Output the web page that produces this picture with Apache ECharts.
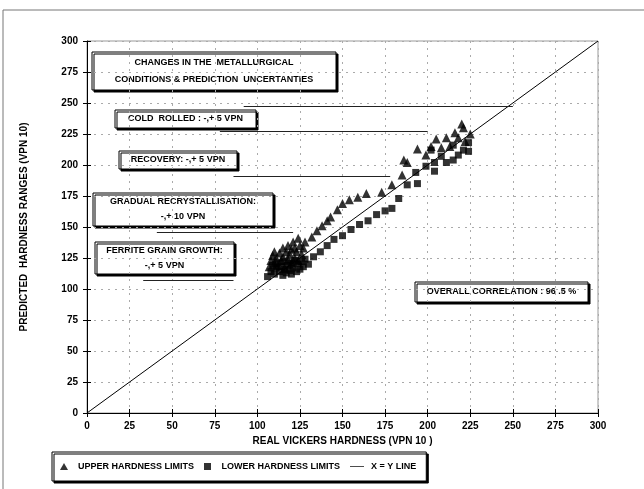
<!DOCTYPE html>
<html>
<head>
<meta charset="utf-8">
<script src="https://cdn.jsdelivr.net/npm/echarts@6/dist/echarts.min.js"></script>
<style>
  html, body { margin: 0; padding: 0; background: #fff; }
  #chart { width: 644px; height: 489px; }
</style>
</head>
<body>
<div id="chart"></div>
<script>
// Axis ticks (VPN 10)
const tickValues = [0, 25, 50, 75, 100, 125, 150, 175, 200, 225, 250, 275, 300];

// Upper limits of the predicted hardness range: [real, predicted]
const upperLimits = [
  [107,118],[108,123],[109,127],[110,121],[110,130],[111,125],[112,119],[113,129],
  [114,123],[115,133],[115,126],[116,117],[117,130],[118,124],[118,135],[119,128],
  [120,132],[120,121],[121,138],[122,125],[122,133],[123,130],[124,141],[124,123],
  [125,135],[126,128],[127,133],[128,138],
  [132,142],[135,147],[138,151],[141,155],[143,158],[147,164],[150,169],[154,172],
  [159,174],[164,177],[173,178],[179,184],[185,192],[186,204],[188,202],[194,213],
  [199,208],[205,221],[211,222],[216,226],[221,230],[222,219],[225,225],[213,215],
  [218,222],[208,214],[202,215],[220,233]
];

// Lower limits of the predicted hardness range: [real, predicted]
const lowerLimits = [
  [106,110],[108,114],[109,119],[110,112],[111,117],[112,121],[113,114],[114,118],
  [115,111],[116,116],[116,122],[117,113],[118,119],[119,115],[120,121],[120,112],
  [121,117],[122,123],[123,114],[124,120],[125,116],[126,122],[127,118],[128,124],
  [130,120],[133,126],[137,130],[141,135],[145,140],[150,143],[155,148],[160,152],
  [165,155],[170,160],[175,163],[179,165],[183,173],[188,184],[193,194],[194,185],
  [199,199],[202,212],[204,195],[204,202],[211,202],[215,204],[215,216],[221,212],
  [224,218],[224,211],[208,207],[218,208]
];

// Reference line x = y
const identityLine = [[0, 0], [300, 300]];

// Hardness bands of each metallurgical condition: [hardness, from real, to real]
const rangeLines = [
  [247.5, 92, 250],
  [227.5, 78, 200],
  [191, 86, 178],
  [146, 41, 121],
  [107, 33, 86]
];

const FONT = '"Liberation Sans", Arial, sans-serif';

const chart = echarts.init(document.getElementById('chart'), null, { renderer: 'canvas' });

// Framed note with a hard drop shadow
function noteBox(x, y, w, h, lines, lineH) {
  const children = [{
    type: 'rect',
    shape: { x: 0, y: 0, width: w, height: h },
    style: { fill: '#fff', stroke: '#000', lineWidth: 1,
             shadowColor: '#000', shadowBlur: 0, shadowOffsetX: 2, shadowOffsetY: 2 }
  }];
  lines.forEach((t, i) => {
    children.push({
      type: 'text',
      style: {
        text: t, x: w / 2, y: h / 2 + (i - (lines.length - 1) / 2) * lineH,
        align: 'center', verticalAlign: 'middle',
        font: 'bold 9px ' + FONT, fill: '#000'
      }
    });
  });
  return { type: 'group', x: x, y: y, children: children, z: 10 };
}

const axisCommon = {
  min: 0, max: 300, interval: 25,
  axisLine: { show: true, lineStyle: { color: '#000', width: 1 } },
  axisTick: { show: true, length: 4, lineStyle: { color: '#000' } },
  axisLabel: { color: '#000', fontFamily: FONT, fontWeight: 'bold', fontSize: 10 },
  splitLine: { show: true, lineStyle: { color: '#aaa', type: [2, 5], width: 1 } }
};

const option = {
  animation: false,
  backgroundColor: '#fff',
  grid: { left: 87, right: 46, top: 41, bottom: 76, show: true, borderColor: '#999', borderWidth: 1 },
  xAxis: [
    Object.assign({}, axisCommon, {
      type: 'value',
      name: 'REAL VICKERS HARDNESS (VPN 10 )',
      nameLocation: 'middle', nameGap: 21,
      nameTextStyle: { color: '#000', fontFamily: FONT, fontWeight: 'bold', fontSize: 10 },
      axisLabel: Object.assign({}, axisCommon.axisLabel, { margin: 8,
        formatter: v => tickValues.includes(v) ? String(v) : '' })
    }),
    { type: 'value', min: 0, max: 300, interval: 25, position: 'bottom',
      axisLine: { show: false }, axisLabel: { show: false }, splitLine: { show: false },
      axisTick: { show: true, inside: true, length: 4, lineStyle: { color: '#000' } } }
  ],
  yAxis: [
    Object.assign({}, axisCommon, {
      type: 'value',
      name: 'PREDICTED  HARDNESS RANGES (VPN 10)',
      nameLocation: 'middle', nameGap: 58,
      nameTextStyle: { color: '#000', fontFamily: FONT, fontWeight: 'bold', fontSize: 10 },
      axisLabel: Object.assign({}, axisCommon.axisLabel, { margin: 9,
        formatter: v => tickValues.includes(v) ? String(v) : '' })
    }),
    { type: 'value', min: 0, max: 300, interval: 25, position: 'left',
      axisLine: { show: false }, axisLabel: { show: false }, splitLine: { show: false },
      axisTick: { show: true, inside: true, length: 4, lineStyle: { color: '#000' } } }
  ],
  legend: {
    left: 52, top: 452,
    itemGap: 10, itemWidth: 14, itemHeight: 7,
    padding: [10, 10, 10, 8],
    backgroundColor: '#fff', borderColor: '#000', borderWidth: 1,
    shadowColor: '#000', shadowBlur: 0, shadowOffsetX: 2, shadowOffsetY: 2,
    textStyle: { color: '#000', fontFamily: FONT, fontWeight: 'bold', fontSize: 9, padding: [0, 0, 0, 2] },
    data: [
      { name: 'UPPER HARDNESS LIMITS', icon: 'path://M4,0L8,7H0Z' },
      { name: 'LOWER HARDNESS LIMITS', icon: 'path://M0,0H6V6H0Z' },
      { name: 'X = Y LINE', icon: 'path://M0,0H20V1H0Z' }
    ]
  },
  series: [
    {
      name: 'X = Y LINE', type: 'line', data: identityLine,
      symbol: 'none', lineStyle: { color: '#000', width: 1 }, itemStyle: { color: '#000' },
      z: 3,
      markLine: {
        silent: true, symbol: 'none', label: { show: false },
        lineStyle: { color: '#222', width: 1.2, type: 'solid' },
        data: rangeLines.map(r => [{ coord: [r[1], r[0]] }, { coord: [r[2], r[0]] }])
      }
    },
    {
      name: 'UPPER HARDNESS LIMITS', type: 'scatter', data: upperLimits,
      symbol: 'triangle', symbolSize: 9, itemStyle: { color: '#000' }, z: 4
    },
    {
      name: 'LOWER HARDNESS LIMITS', type: 'scatter', data: lowerLimits,
      symbol: 'rect', symbolSize: 7, itemStyle: { color: '#000' }, z: 4
    }
  ],
  graphic: [
    // outer frame
    { type: 'rect', shape: { x: 3, y: 10, width: 660, height: 500 },
      style: { fill: 'none', stroke: '#777', lineWidth: 1 }, z: 0 },
    noteBox(92, 52, 244, 38, ['CHANGES IN THE  METALLURGICAL', 'CONDITIONS & PREDICTION  UNCERTANTIES'], 17),
    noteBox(115, 110, 141, 18, ['COLD  ROLLED : -,+ 5 VPN'], 12),
    noteBox(119, 151, 118, 18, ['RECOVERY: -,+ 5 VPN'], 12),
    noteBox(93, 193, 180, 33, ['GRADUAL RECRYSTALLISATION:', '-,+ 10 VPN'], 15),
    noteBox(95, 242, 139, 32, ['FERRITE GRAIN GROWTH:', '-,+ 5 VPN'], 15),
    noteBox(415, 282, 173, 20, ['OVERALL CORRELATION : 96 .5 %'], 12)
  ]
};

chart.setOption(option);
</script>
</body>
</html>
